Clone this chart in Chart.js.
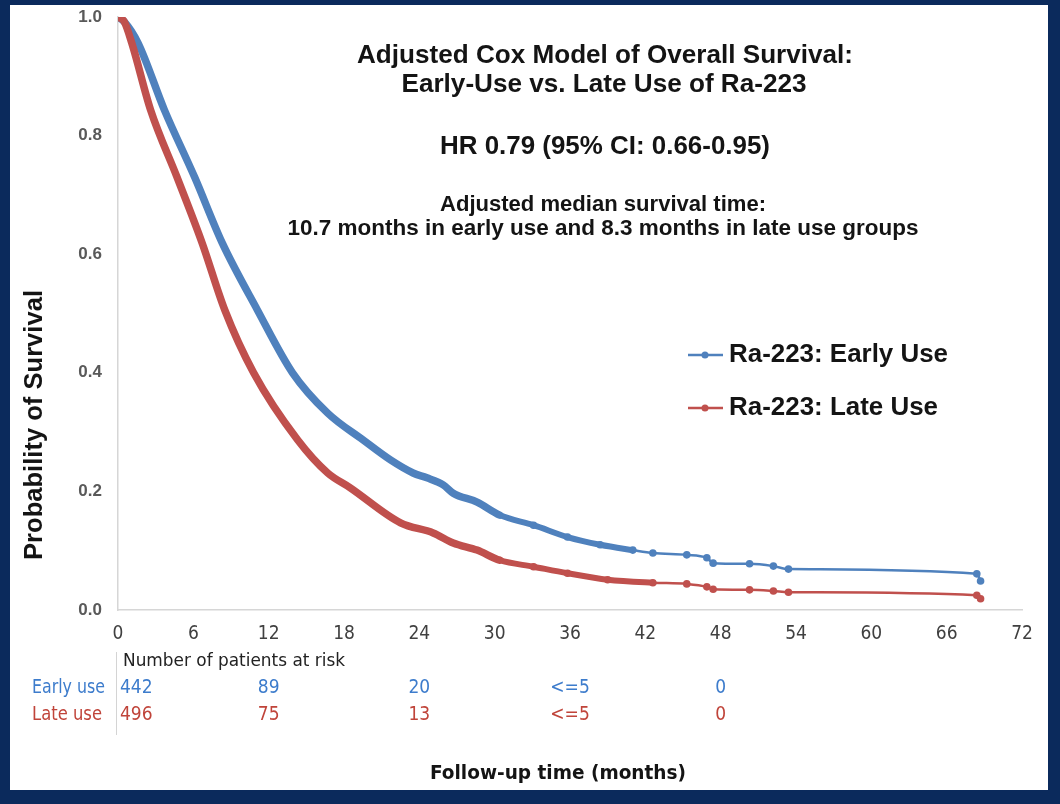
<!DOCTYPE html>
<html><head><meta charset="utf-8">
<script src="https://cdn.jsdelivr.net/npm/chart.js@4.4.0/dist/chart.umd.min.js"></script>
<style>
html,body{margin:0;padding:0;background:#0b2a5c;width:1060px;height:804px;overflow:hidden}
#panel{position:absolute;left:10px;top:5px;width:1038px;height:785px;background:#fff}
#wrap{position:absolute;left:0;top:0;width:1060px;height:804px}
</style></head><body>
<div id="panel"></div>
<div id="wrap"><canvas id="c" width="1060" height="804"></canvas></div>
<script>
// ---- data ----
const monthsEarly = [0, 0.5, 1.6, 3.7, 6.1, 8.3, 11.1, 13.9, 16.7, 19.5, 21.7, 23.5, 24.6, 25.9, 26.7, 28.6, 30.4, 33.1, 35.8, 38.4, 41.0, 42.6, 45.3, 46.9, 47.4, 50.3, 52.2, 53.4, 68.4, 68.7];
const survEarly   = [1.000, 0.992, 0.956, 0.843, 0.730, 0.619, 0.506, 0.400, 0.332, 0.287, 0.253, 0.231, 0.223, 0.211, 0.197, 0.182, 0.160, 0.143, 0.123, 0.110, 0.101, 0.096, 0.093, 0.088, 0.079, 0.078, 0.074, 0.069, 0.061, 0.049];
const monthsLate  = [0, 0.5, 1.1, 2.6, 4.7, 6.7, 8.5, 10.8, 14.3, 16.7, 18.5, 22.5, 25.1, 26.7, 28.6, 30.4, 33.1, 35.8, 39.0, 42.6, 45.3, 46.9, 47.4, 50.3, 52.2, 53.4, 68.4, 68.7];
const survLate    = [1.000, 0.992, 0.956, 0.843, 0.730, 0.619, 0.506, 0.400, 0.287, 0.231, 0.206, 0.147, 0.130, 0.113, 0.101, 0.084, 0.073, 0.062, 0.051, 0.046, 0.044, 0.039, 0.035, 0.034, 0.032, 0.030, 0.025, 0.019];
const seriesNames = ['Ra-223: Early Use', 'Ra-223: Late Use'];
const riskMonths  = [0, 12, 24, 36, 48];
const riskEarly   = ['442', '89', '20', '<=5', '0'];
const riskLate    = ['496', '75', '13', '<=5', '0'];
const riskRowNames = ['Early use', 'Late use'];
const riskHeader  = 'Number of patients at risk';
const titleTexts  = ['Adjusted Cox Model of Overall Survival:', 'Early-Use vs. Late Use of Ra-223', 'HR 0.79 (95% CI: 0.66-0.95)', 'Adjusted median survival time:', '10.7 months in early use and 8.3 months in late use groups'];
const xTitle = 'Follow-up time (months)';
const yTitle = 'Probability of Survival';

// ---- styles ----
const BLUE = '#4f81bd', RED = '#c0504d';
const BLUE_TXT = '#3d7ccc', RED_TXT = '#c0443a';
const NARROW = '"DejaVu Sans Condensed","Liberation Sans",sans-serif';
const SANS = '"Liberation Sans",Arial,sans-serif';

function pts(ms, ss){ return ms.map((m,i)=>({x:m, y:ss[i]})); }

function fitText(ctx, text, x, y, target, align){
  const w = ctx.measureText(text).width;
  let s = target ? target / w : 1;
  s = Math.max(0.75, Math.min(1.25, s));
  ctx.save();
  ctx.translate(x, y);
  ctx.scale(s, 1);
  ctx.textAlign = align || 'left';
  ctx.fillText(text, 0, 0);
  ctx.restore();
}

const overlay = {
  id: 'overlay',
  afterDraw(chart){
    const {ctx} = chart;
    const xs = chart.scales.x;
    ctx.save();
    ctx.textBaseline = 'middle';
    // titles
    ctx.fillStyle = '#141414';
    const tl = [
      {cx:605, cy:56, size:26, w:496},
      {cx:604, cy:85, size:26, w:405},
      {cx:605, cy:147, size:26, w:330},
      {cx:603, cy:205, size:22, w:326},
      {cx:603, cy:229, size:22, w:631}
    ];
    titleTexts.forEach((t,i)=>{
      ctx.font = `bold ${tl[i].size}px ${SANS}`;
      fitText(ctx, t, tl[i].cx, tl[i].cy, tl[i].w, 'center');
    });
    // legend
    const lg = [{y:355, c:BLUE, w:219}, {y:408, c:RED, w:209}];
    lg.forEach((l,i)=>{
      ctx.strokeStyle = l.c; ctx.lineWidth = 2.5;
      ctx.beginPath(); ctx.moveTo(688, l.y); ctx.lineTo(723, l.y); ctx.stroke();
      ctx.fillStyle = l.c;
      ctx.beginPath(); ctx.arc(705, l.y, 3.5, 0, Math.PI*2); ctx.fill();
      ctx.fillStyle = '#141414';
      ctx.font = `bold 25px ${SANS}`;
      fitText(ctx, seriesNames[i], 729, l.y, l.w, 'left');
    });
    // y title
    ctx.save();
    ctx.translate(35, 425);
    ctx.rotate(-Math.PI/2);
    ctx.font = `bold 25px ${SANS}`;
    ctx.fillStyle = '#141414';
    fitText(ctx, yTitle, 0, 0, 270, 'center');
    ctx.restore();
    // x title
    ctx.font = `bold 20px ${NARROW}`;
    ctx.fillStyle = '#141414';
    fitText(ctx, xTitle, 558, 774, 256, 'center');
    // risk table
    ctx.strokeStyle = '#d4d4d4'; ctx.lineWidth = 1;
    ctx.beginPath(); ctx.moveTo(116.5, 652); ctx.lineTo(116.5, 735); ctx.stroke();
    ctx.font = `17px ${NARROW}`;
    ctx.fillStyle = '#222';
    fitText(ctx, riskHeader, 123, 662, 222, 'left');
    const rows = [{vals:riskEarly, c:BLUE_TXT, y:688, w:73}, {vals:riskLate, c:RED_TXT, y:715, w:70}];
    rows.forEach((r,ri)=>{
      ctx.fillStyle = r.c;
      ctx.font = `19px ${NARROW}`;
      fitText(ctx, riskRowNames[ri], 32, r.y, r.w, 'left');
      r.vals.forEach((v,i)=>{
        const px = xs.getPixelForValue(riskMonths[i]);
        if (i === 0) fitText(ctx, v, px + 2, r.y, null, 'left');
        else fitText(ctx, v, px, r.y, null, 'center');
      });
    });
    ctx.restore();
  }
};

const widthFn = c => { const m = c.p0.parsed.x; return m < 30 ? 7.5 : (m < 40 ? 6 : 2.5); };
const radiusFn = c => (c.raw && c.raw.x >= 33) ? 3.8 : 0;

new Chart(document.getElementById('c'), {
  type: 'line',
  data: {
    datasets: [
      {label: seriesNames[0], data: pts(monthsEarly, survEarly), borderColor: BLUE, backgroundColor: BLUE,
       pointBackgroundColor: BLUE, pointBorderColor: BLUE, pointRadius: radiusFn, pointBorderWidth: 0,
       borderCapStyle:'round', borderJoinStyle:'round', cubicInterpolationMode:'monotone', order: 1,
       segment: {borderWidth: widthFn}},
      {label: seriesNames[1], data: pts(monthsLate, survLate), borderColor: RED, backgroundColor: RED,
       pointBackgroundColor: RED, pointBorderColor: RED, pointRadius: radiusFn, pointBorderWidth: 0,
       borderCapStyle:'round', borderJoinStyle:'round', cubicInterpolationMode:'monotone', order: 0,
       segment: {borderWidth: widthFn}}
    ]
  },
  options: {
    responsive: false,
    animation: false,
    devicePixelRatio: 1,
    layout: {padding: {left: 0, top: 17, right: 38, bottom: 144}},
    plugins: {legend: {display: false}, tooltip: {enabled: false}},
    scales: {
      x: {
        type: 'linear', min: 0, max: 72,
        afterFit: s => { s.height = 50; },
        afterBuildTicks: s => { s.ticks = []; for (let v = 0; v <= 72; v += 6) s.ticks.push({value: v}); },
        grid: {display: false, drawTicks: false},
        border: {display: true, color: '#d6d6d6', width: 1.5},
        ticks: {color: '#404040', font: {family: NARROW, size: 19}, padding: 13, maxRotation: 0, autoSkip: false}
      },
      y: {
        min: 0, max: 1,
        afterFit: s => { s.width = 118; s.paddingTop = 0; s.paddingBottom = 0; },
        grid: {display: false, drawTicks: false},
        border: {display: true, color: '#d6d6d6', width: 1.5},
        ticks: {stepSize: 0.2, color: '#595959', font: {family: SANS, size: 17, weight: 'bold'}, padding: 16,
                callback: v => Number(v).toFixed(1)}
      }
    }
  },
  plugins: [overlay]
});
</script>
</body></html>
